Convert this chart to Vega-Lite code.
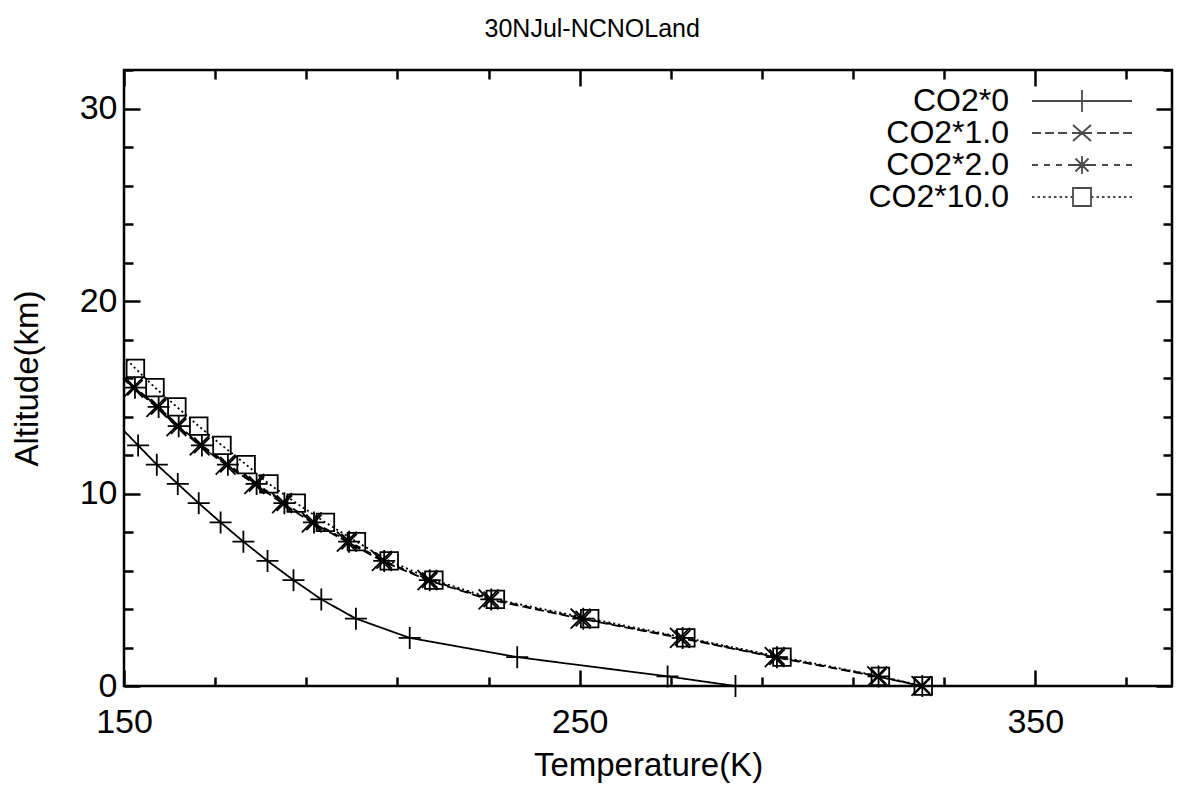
{
  "$schema": "https://vega.github.io/schema/vega-lite/v6.json",
  "autosize": "none",
  "padding": {"left": 124, "top": 70, "right": 10, "bottom": 102},
  "width": 1048,
  "height": 616,
  "background": "white",
  "title": {"text": "30NJul-NCNOLand", "font": "Liberation Sans", "fontSize": 25, "fontWeight": "normal", "anchor": "middle", "frame": "bounds", "offset": 27, "color": "black"},
  "config": {
    "view": {"stroke": "black", "strokeWidth": 2.5},
    "font": "Liberation Sans",
    "axis": {"labelFont": "Liberation Sans", "titleFont": "Liberation Sans", "labelColor": "black", "titleColor": "black", "tickColor": "black", "titleFontWeight": "normal", "grid": false, "domain": false, "tickWidth": 2.5}
  },
  "data": {"values": [
    {"s": "CO2*0", "T": 149.0, "alt": 13.5},
    {"s": "CO2*0", "T": 153.1, "alt": 12.5},
    {"s": "CO2*0", "T": 157.2, "alt": 11.5},
    {"s": "CO2*0", "T": 161.8, "alt": 10.5},
    {"s": "CO2*0", "T": 166.4, "alt": 9.5},
    {"s": "CO2*0", "T": 171.2, "alt": 8.5},
    {"s": "CO2*0", "T": 176.2, "alt": 7.5},
    {"s": "CO2*0", "T": 181.5, "alt": 6.5},
    {"s": "CO2*0", "T": 187.2, "alt": 5.5},
    {"s": "CO2*0", "T": 193.3, "alt": 4.5},
    {"s": "CO2*0", "T": 200.9, "alt": 3.5},
    {"s": "CO2*0", "T": 212.7, "alt": 2.5},
    {"s": "CO2*0", "T": 236.3, "alt": 1.5},
    {"s": "CO2*0", "T": 269.3, "alt": 0.5},
    {"s": "CO2*0", "T": 284.2, "alt": 0},
    {"s": "CO2*1.0", "T": 147.3, "alt": 16.5},
    {"s": "CO2*1.0", "T": 152.0, "alt": 15.5},
    {"s": "CO2*1.0", "T": 157.1, "alt": 14.5},
    {"s": "CO2*1.0", "T": 161.5, "alt": 13.5},
    {"s": "CO2*1.0", "T": 166.6, "alt": 12.5},
    {"s": "CO2*1.0", "T": 172.3, "alt": 11.5},
    {"s": "CO2*1.0", "T": 178.6, "alt": 10.5},
    {"s": "CO2*1.0", "T": 184.7, "alt": 9.5},
    {"s": "CO2*1.0", "T": 191.2, "alt": 8.5},
    {"s": "CO2*1.0", "T": 198.9, "alt": 7.5},
    {"s": "CO2*1.0", "T": 206.6, "alt": 6.5},
    {"s": "CO2*1.0", "T": 216.6, "alt": 5.5},
    {"s": "CO2*1.0", "T": 230.0, "alt": 4.5},
    {"s": "CO2*1.0", "T": 250.2, "alt": 3.5},
    {"s": "CO2*1.0", "T": 272.0, "alt": 2.5},
    {"s": "CO2*1.0", "T": 292.8, "alt": 1.5},
    {"s": "CO2*1.0", "T": 315.3, "alt": 0.5},
    {"s": "CO2*1.0", "T": 325.0, "alt": 0},
    {"s": "CO2*2.0", "T": 147.8, "alt": 16.5},
    {"s": "CO2*2.0", "T": 152.4, "alt": 15.5},
    {"s": "CO2*2.0", "T": 157.6, "alt": 14.5},
    {"s": "CO2*2.0", "T": 162.0, "alt": 13.5},
    {"s": "CO2*2.0", "T": 167.1, "alt": 12.5},
    {"s": "CO2*2.0", "T": 172.8, "alt": 11.5},
    {"s": "CO2*2.0", "T": 179.1, "alt": 10.5},
    {"s": "CO2*2.0", "T": 185.2, "alt": 9.5},
    {"s": "CO2*2.0", "T": 191.7, "alt": 8.5},
    {"s": "CO2*2.0", "T": 199.4, "alt": 7.5},
    {"s": "CO2*2.0", "T": 207.1, "alt": 6.5},
    {"s": "CO2*2.0", "T": 217.1, "alt": 5.5},
    {"s": "CO2*2.0", "T": 230.6, "alt": 4.5},
    {"s": "CO2*2.0", "T": 250.8, "alt": 3.5},
    {"s": "CO2*2.0", "T": 272.6, "alt": 2.5},
    {"s": "CO2*2.0", "T": 293.3, "alt": 1.5},
    {"s": "CO2*2.0", "T": 315.6, "alt": 0.5},
    {"s": "CO2*2.0", "T": 325.2, "alt": 0},
    {"s": "CO2*10.0", "T": 148.3, "alt": 17.5},
    {"s": "CO2*10.0", "T": 152.5, "alt": 16.5},
    {"s": "CO2*10.0", "T": 156.8, "alt": 15.5},
    {"s": "CO2*10.0", "T": 161.6, "alt": 14.5},
    {"s": "CO2*10.0", "T": 166.4, "alt": 13.5},
    {"s": "CO2*10.0", "T": 171.5, "alt": 12.5},
    {"s": "CO2*10.0", "T": 176.8, "alt": 11.5},
    {"s": "CO2*10.0", "T": 181.8, "alt": 10.5},
    {"s": "CO2*10.0", "T": 187.8, "alt": 9.5},
    {"s": "CO2*10.0", "T": 194.2, "alt": 8.5},
    {"s": "CO2*10.0", "T": 201.0, "alt": 7.5},
    {"s": "CO2*10.0", "T": 208.2, "alt": 6.5},
    {"s": "CO2*10.0", "T": 218.0, "alt": 5.5},
    {"s": "CO2*10.0", "T": 231.5, "alt": 4.5},
    {"s": "CO2*10.0", "T": 252.2, "alt": 3.5},
    {"s": "CO2*10.0", "T": 273.3, "alt": 2.5},
    {"s": "CO2*10.0", "T": 294.4, "alt": 1.5},
    {"s": "CO2*10.0", "T": 316.0, "alt": 0.5},
    {"s": "CO2*10.0", "T": 325.4, "alt": 0}
  ]},
  "resolve": {"scale": {"shape": "independent"}, "axis": {"x": "independent", "y": "independent"}},
  "layer": [
    {
      "mark": {"type": "line", "color": "black", "strokeWidth": 1.8, "clip": true},
      "encoding": {
        "x": {"field": "T", "type": "quantitative", "scale": {"domain": [150, 380], "nice": false, "zero": false},
          "axis": {"orient": "bottom", "title": "Temperature(K)", "values": [150,170,190,210,230,250,270,290,310,330,350,370],
            "labelExpr": "datum.value % 100 === 50 ? datum.label : ''",
            "tickSize": {"condition": {"test": "datum.value % 100 === 50", "value": -16}, "value": -9},
            "labelFontSize": 34, "titleFontSize": 33, "labelPadding": 35, "titlePadding": 10, "labelFlush": false}},
        "y": {"field": "alt", "type": "quantitative", "scale": {"domain": [0, 32], "nice": false, "zero": false},
          "axis": {"orient": "left", "title": "Altitude(km)", "values": [0,2,4,6,8,10,12,14,16,18,20,22,24,26,28,30,32],
            "labelExpr": "datum.value % 10 === 0 ? datum.label : ''",
            "tickSize": {"condition": {"test": "datum.value % 10 === 0", "value": -16}, "value": -9},
            "labelFontSize": 34, "titleFontSize": 33, "labelPadding": 23, "titlePadding": 35, "labelFlush": false}},
        "detail": {"field": "s"},
        "strokeDash": {"field": "s", "type": "nominal", "legend": null,
          "scale": {"domain": ["CO2*0", "CO2*1.0", "CO2*2.0", "CO2*10.0"], "range": [[1, 0], [9, 4], [6, 6], [2, 3]]}}
      }
    },
    {
      "transform": [{"filter": "datum.T >= 150"}],
      "mark": {"type": "point", "color": "black", "filled": false, "strokeWidth": 1.8, "size": 484, "opacity": 1},
      "encoding": {
        "x": {"field": "T", "type": "quantitative", "scale": {"domain": [150, 380], "nice": false, "zero": false},
          "axis": {"orient": "top", "title": null, "labels": false, "values": [150,170,190,210,230,250,270,290,310,330,350,370],
            "tickSize": {"condition": {"test": "datum.value % 100 === 50", "value": -16}, "value": -9}}},
        "y": {"field": "alt", "type": "quantitative", "scale": {"domain": [0, 32], "nice": false, "zero": false},
          "axis": {"orient": "right", "title": null, "labels": false, "values": [0,2,4,6,8,10,12,14,16,18,20,22,24,26,28,30,32],
            "tickSize": {"condition": {"test": "datum.value % 10 === 0", "value": -16}, "value": -9}}},
        "shape": {"field": "s", "type": "nominal", "legend": null,
          "scale": {"domain": ["CO2*0", "CO2*1.0", "CO2*2.0", "CO2*10.0"],
            "range": ["M-1,0L1,0M0,-1L0,1", "M-0.9,-0.9L0.9,0.9M-0.9,0.9L0.9,-0.9", "M-1,0L1,0M0,-1L0,1M-0.7,-0.7L0.7,0.7M-0.7,0.7L0.7,-0.7", "M-0.8,-0.8L0.8,-0.8L0.8,0.8L-0.8,0.8Z"]}}
      }
    },
    {
      "transform": [{"filter": "datum.alt < 0"}],
      "mark": {"type": "point", "color": "black", "filled": false, "strokeWidth": 1.8, "size": 400},
      "encoding": {
        "shape": {"field": "s", "type": "nominal",
          "scale": {"domain": ["CO2*0", "CO2*1.0", "CO2*2.0", "CO2*10.0"],
            "range": [
              "M-5,0L5,0M0,-1.1L0,1.1M7.1,0",
              "M-5,0L-4.1,0M-3.7,0L-2.8,0M-2.4,0L-1.5,0M-1,0L1,0M-0.9,-0.8L0.9,0.8M-0.9,0.8L0.9,-0.8M1.5,0L2.4,0M2.8,0L3.7,0M4.1,0L5,0M7.1,0",
              "M-5,0L-4.4,0M-3.8,0L-3.2,0M-2.6,0L-2,0M-1.4,0L1.4,0M-0.9,0L0.9,0M0,-0.9L0,0.9M-0.65,-0.65L0.65,0.65M-0.65,0.65L0.65,-0.65M2,0L2.6,0M3.2,0L3.8,0M4.4,0L5,0M7.1,0",
              "M-5,0L-4.75,0M-4.45,0L-4.2,0M-3.9,0L-3.65,0M-3.35,0L-3.1,0M-2.8,0L-2.55,0M-2.25,0L-2,0M-1.7,0L-1.45,0M-1.15,0L-0.9,0M-0.9,-0.9L0.9,-0.9L0.9,0.9L-0.9,0.9ZM0.9,0L1.15,0M1.45,0L1.7,0M2,0L2.25,0M2.55,0L2.8,0M3.1,0L3.35,0M3.65,0L3.9,0M4.2,0L4.45,0M4.75,0L5,0M7.1,0"
            ]},
          "legend": {"title": null, "orient": "top-right", "offset": 15, "padding": 0, "labelFont": "Liberation Sans", "labelFontSize": 32, "labelColor": "black",
            "labelAlign": "right", "labelOffset": -89, "labelLimit": 0, "symbolSize": 400, "symbolStrokeColor": "black", "symbolFillColor": "transparent", "symbolStrokeWidth": 1.8, "rowPadding": 0}
        }
      }
    }
  ]
}
